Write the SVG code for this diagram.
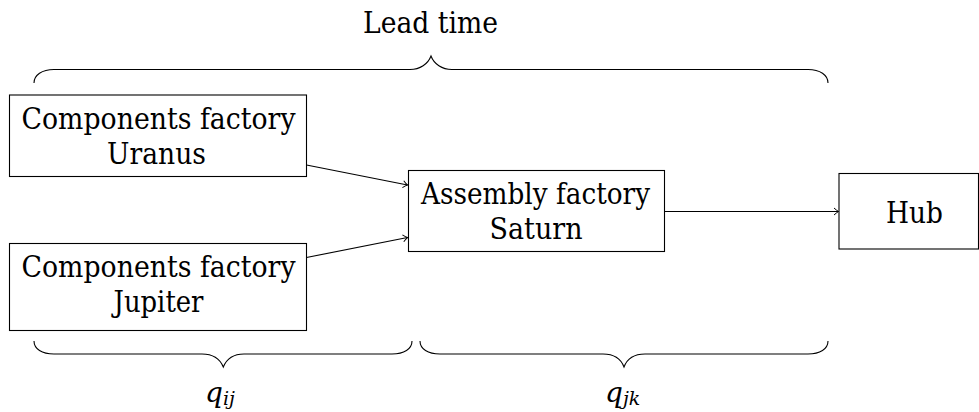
<svg xmlns="http://www.w3.org/2000/svg" width="979" height="412" viewBox="0 0 979 412">
<defs>
<style>
.box{fill:#fff;stroke:#000;stroke-width:1.1}
.t{font-family:"DejaVu Serif","Liberation Serif",serif;font-size:29px;fill:#000;text-anchor:middle}
.m{font-family:"DejaVu Serif","Liberation Serif",serif;font-size:28px;font-style:italic;fill:#000}
.e{fill:none;stroke:#000;stroke-width:1.1}
.br{fill:none;stroke:#000;stroke-width:1.1}
</style>
<marker id="arr" viewBox="-6 -5 8 10" markerWidth="8" markerHeight="10" refX="0" refY="0" orient="auto" markerUnits="userSpaceOnUse">
<path d="M-4.5,-3.5 Q-1.5,-0.8 0,0 Q-1.5,0.8 -4.5,3.5" fill="none" stroke="#000" stroke-width="1"/>
</marker>
</defs>
<rect width="979" height="412" fill="#fff"/>

<g id="lead-time">
<path class="br" d="M34,83 C34,75 42,69.5 54,69.5 L410,69.5 C420,69.5 428,64 431,56 C434,64 442,69.5 452,69.5 L808,69.5 C820,69.5 828,75 828,83"/>
<text class="t" x="430.5" y="33" textLength="135" lengthAdjust="spacingAndGlyphs">Lead time</text>
</g>

<g id="uranus">
<rect class="box" x="9.5" y="95" width="297" height="81.5"/>
<text class="t" x="158.5" y="128.5" textLength="274" lengthAdjust="spacingAndGlyphs">Components factory</text>
<text class="t" x="156.5" y="163.5" textLength="99" lengthAdjust="spacingAndGlyphs">Uranus</text>
</g>

<g id="jupiter">
<rect class="box" x="9.5" y="243.5" width="297" height="87"/>
<text class="t" x="158.5" y="277" textLength="274" lengthAdjust="spacingAndGlyphs">Components factory</text>
<text class="t" x="158.5" y="312" textLength="90" lengthAdjust="spacingAndGlyphs">Jupiter</text>
</g>

<g id="saturn">
<rect class="box" x="408.5" y="170.5" width="256" height="81"/>
<text class="t" x="535.5" y="204" textLength="229" lengthAdjust="spacingAndGlyphs">Assembly factory</text>
<text class="t" x="536" y="239" textLength="93" lengthAdjust="spacingAndGlyphs">Saturn</text>
</g>

<g id="hub">
<rect class="box" x="839" y="173.5" width="139.5" height="75.5"/>
<text class="t" x="914.5" y="223" textLength="57" lengthAdjust="spacingAndGlyphs">Hub</text>
</g>

<g id="connectors">
<line class="e" x1="306.5" y1="165" x2="407.5" y2="185" marker-end="url(#arr)"/>
<line class="e" x1="306.5" y1="257.5" x2="407.5" y2="237.5" marker-end="url(#arr)"/>
<line class="e" x1="664.5" y1="211.5" x2="838.5" y2="211.5" marker-end="url(#arr)"/>
</g>

<g id="qij">
<path class="br" d="M34,341 C34,349 42,354 54,354 L202,354 C213,354 220,359 223.3,367 C226.6,359 233,354 244,354 L392,354 C404,354 412,349 412,341"/>
<text class="m" x="205" y="402">q<tspan font-size="19" dy="3">ij</tspan></text>
</g>

<g id="qjk">
<path class="br" d="M420,341 C420,349 428,354 440,354 L603,354 C614,354 621,359 624,367 C627,359 634,354 645,354 L808,354 C820,354 828,349 828,341"/>
<text class="m" x="605" y="402">q<tspan font-size="19" dy="3">jk</tspan></text>
</g>
</svg>
